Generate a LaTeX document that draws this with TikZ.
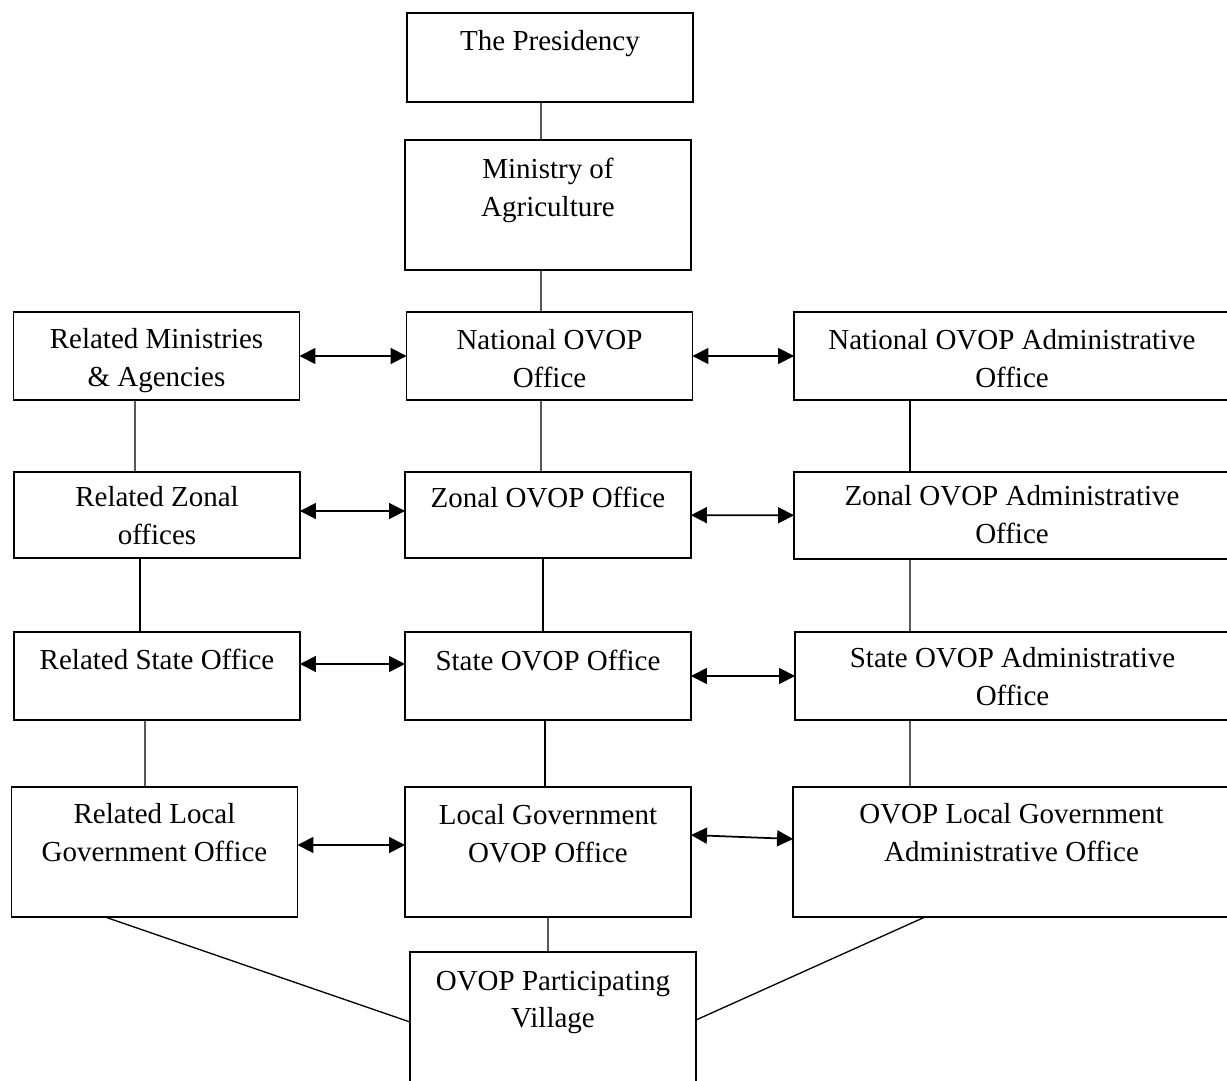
\documentclass[tikz,border=0pt]{standalone}
\usepackage{fontspec}
\setmainfont{Liberation Serif}
\usetikzlibrary{arrows.meta}

\tikzset{
    box/.style={draw, line width=0.75pt, inner sep=0pt, outer sep=0pt, minimum width=5.72cm},
    txt/.style={anchor=north, align=center, inner sep=0pt, font=\fontsize{16.5}{21.5}\selectfont},
    link/.style={line width=0.75pt},
    both/.style={line width=1pt, {Triangle[length=0.32cm,width=0.32cm]}-{Triangle[length=0.32cm,width=0.32cm]}}
}

\begin{document}
\begin{tikzpicture}[x=0.02cm, y=-0.02cm]
    \useasboundingbox (0,0) rectangle (1227,1081);
    \clip (0,0) rectangle (1227,1081);

    \node[box, minimum height=1.78cm] (pres) at (550,57.5) {};
    \node[box, minimum height=2.6cm] (min) at (548,205) {};

    \node[box, minimum height=1.76cm] (relmin) at (156.5,356) {};
    \node[box, minimum height=1.76cm] (nat) at (549.5,356) {};
    \node[box, minimum width=8.72cm, minimum height=1.76cm] (natadm) at (1012,356) {};

    \node[box, minimum height=1.72cm] (relzon) at (157,515) {};
    \node[box, minimum height=1.72cm] (zon) at (548,515) {};
    \node[box, minimum width=8.72cm, minimum height=1.74cm] (zonadm) at (1012,515.5) {};

    \node[box, minimum height=1.76cm] (relsta) at (157,676) {};
    \node[box, minimum height=1.76cm] (sta) at (548,676) {};
    \node[box, minimum width=8.7cm, minimum height=1.76cm] (staadm) at (1012.5,676) {};

    \node[box, minimum height=2.6cm] (relloc) at (154.5,852) {};
    \node[box, minimum height=2.6cm] (loc) at (548,852) {};
    \node[box, minimum width=8.74cm, minimum height=2.6cm] (locadm) at (1011.5,852) {};

    \node[box, minimum height=2.96cm] (vil) at (553,1026) {};

    \node[txt] (presT) at ([yshift=-0.35cm]pres.north) {The Presidency};
    \node[txt] (minT) at ([yshift=-0.35cm]min.north) {Ministry of\\Agriculture};
    \node[txt] (relminT) at ([yshift=-0.33cm]relmin.north) {Related Ministries\\\& Agencies};
    \node[txt] (natT) at ([yshift=-0.35cm]nat.north) {National OVOP\\Office};
    \node[txt] (natadmT) at ([yshift=-0.35cm]natadm.north) {National OVOP Administrative\\Office};
    \node[txt] (relzonT) at ([yshift=-0.28cm]relzon.north) {Related Zonal\\offices};
    \node[txt] (zonT) at ([yshift=-0.3cm]zon.north) {Zonal OVOP Office};
    \node[txt] (zonadmT) at ([yshift=-0.26cm]zonadm.north) {Zonal OVOP Administrative\\Office};
    \node[txt] (relstaT) at ([yshift=-0.33cm]relsta.north) {Related State Office};
    \node[txt] (staT) at ([yshift=-0.35cm]sta.north) {State OVOP Office};
    \node[txt] (staadmT) at ([yshift=-0.3cm]staadm.north) {State OVOP Administrative\\Office};
    \node[txt] (rellocT) at ([yshift=-0.33cm]relloc.north) {Related Local\\Government Office};
    \node[txt] (locT) at ([yshift=-0.35cm]loc.north) {Local Government\\OVOP Office};
    \node[txt] (locadmT) at ([yshift=-0.33cm]locadm.north) {OVOP Local Government\\Administrative Office};
    \node[txt] (vilT) at ([yshift=-0.37cm]vil.north) {OVOP Participating\\Village};

    \draw[link] ([xshift=-0.18cm]pres.south) -- ([xshift=-0.14cm]min.north);
    \draw[link] ([xshift=-0.14cm]min.south) -- ([xshift=-0.17cm]nat.north);
    \draw[link] ([xshift=-0.17cm]nat.south) -- ([xshift=-0.14cm]zon.north);
    \draw[link] ([xshift=-0.1cm]zon.south) -- ([xshift=-0.1cm]sta.north);
    \draw[link] ([xshift=-0.06cm]sta.south) -- ([xshift=-0.06cm]loc.north);
    \draw[link] (loc.south) -- ([xshift=-0.1cm]vil.north);

    \draw[link] ([xshift=-0.43cm]relmin.south) -- ([xshift=-0.44cm]relzon.north);
    \draw[link] ([xshift=-0.34cm]relzon.south) -- ([xshift=-0.34cm]relsta.north);
    \draw[link] ([xshift=-0.24cm]relsta.south) -- ([xshift=-0.19cm]relloc.north);

    \draw[link] ([xshift=-2.04cm]natadm.south) -- ([xshift=-2.04cm]zonadm.north);
    \draw[link] ([xshift=-2.04cm]zonadm.south) -- ([xshift=-2.05cm]staadm.north);
    \draw[link] ([xshift=-2.05cm]staadm.south) -- ([xshift=-2.03cm]locadm.north);

    \draw[link] ([xshift=-0.99cm]relloc.south) -- ([yshift=0.08cm]vil.west);
    \draw[link] ([xshift=-1.73cm]locadm.south) -- ([yshift=0.12cm]vil.east);

    \draw[both] (relmin) -- (nat);
    \draw[both] (nat) -- (natadm);
    \draw[both] ([yshift=0.08cm]relzon.east) -- ([yshift=0.08cm]zon.west);
    \draw[both] (zon) -- (zonadm);
    \draw[both] ([yshift=0.24cm]relsta.east) -- ([yshift=0.24cm]sta.west);
    \draw[both] (sta) -- (staadm);
    \draw[both] ([yshift=0.14cm]relloc.east) -- ([yshift=0.14cm]loc.west);
    \draw[both] ([yshift=0.34cm]loc.east) -- ([yshift=0.26cm]locadm.west);
\end{tikzpicture}
\end{document}
